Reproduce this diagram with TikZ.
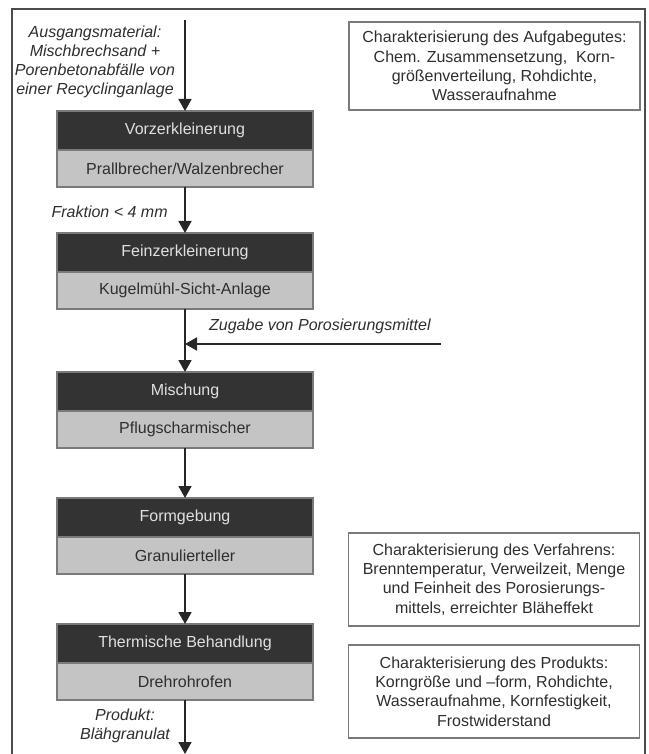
\documentclass[tikz,border=0pt]{standalone}
\usepackage{fontspec}
\setmainfont{Liberation Sans}
\usetikzlibrary{arrows.meta,positioning}
\definecolor{stufedunkel}{HTML}{333333}
\definecolor{stufehell}{HTML}{C4C4C4}
\definecolor{randgrau}{HTML}{7A7A7A}
\definecolor{schrift}{HTML}{2E2E2E}
\tikzset{
  stufe/.style={draw=randgrau, line width=0.6pt, fill=stufedunkel, text=white!88!black,
    minimum width=128pt, minimum height=19.5pt, inner sep=0pt, outer sep=0pt,
    font=\fontsize{8}{9.6}\selectfont},
  geraet/.style={stufe, fill=stufehell, text=schrift, minimum height=18.5pt},
  info/.style={draw=randgrau, line width=0.7pt, text=schrift, align=center,
    minimum width=145.5pt, minimum height=44pt, inner sep=0pt,
    font=\fontsize{8}{9.6}\selectfont},
  etikett/.style={text=schrift, align=center, inner sep=0pt,
    font=\fontsize{8}{9.4}\selectfont\itshape},
  pfeil/.style={line width=0.9pt, draw=black!85, -{Triangle[length=6pt,width=6.5pt]}},
}
\begin{document}
\begin{tikzpicture}[x=0.5pt, y=-0.5pt]
	\useasboundingbox (0,0) rectangle (648,754);
	\draw[line width=0.8pt, draw=black!70] (12,754) -- (12,9) -- (645,9) -- (645,754);
	\node[stufe, anchor=north] (vorz) at (185,111) {Vorzerkleinerung};
	\node[geraet, below=0pt of vorz] (prall) {Prallbrecher/Walzenbrecher};
	\node[stufe, anchor=north] (feinz) at (185,233) {Feinzerkleinerung};
	\node[geraet, below=0pt of feinz] (kugel) {Kugelmühl-Sicht-Anlage};
	\node[stufe, anchor=north] (misch) at (185,372) {Mischung};
	\node[geraet, below=0pt of misch] (pflug) {Pflugscharmischer};
	\node[stufe, anchor=north] (form) at (185,498) {Formgebung};
	\node[geraet, below=0pt of form] (granul) {Granulierteller};
	\node[stufe, anchor=north] (therm) at (185,624) {Thermische Behandlung};
	\node[geraet, below=0pt of therm] (dreh) {Drehrohrofen};
	\coordinate (eingang) at (185,20);
	\coordinate (ausgang) at (185,754);
	\coordinate (zugabe) at (441,344);
	\coordinate (einmuendung) at (kugel.south |- zugabe);
	\draw[pfeil] (eingang) -- (vorz);
	\draw[pfeil] (prall) -- (feinz);
	\draw[pfeil] (kugel) -- (misch);
	\draw[pfeil] (zugabe) -- (einmuendung);
	\draw[pfeil] (pflug) -- (form);
	\draw[pfeil] (granul) -- (therm);
	\draw[pfeil] (dreh) -- (ausgang);
	\node[etikett] (rohstoff) at (95,62) {Ausgangsmaterial:\\ Mischbrechsand +\\ Porenbetonabfälle von\\ einer Recyclinganlage};
	\node[etikett, anchor=east] (fraktion) at (168,212) {Fraktion < 4 mm};
	\node[etikett, anchor=east] (porosierung) at (431,326) {Zugabe von Porosierungsmittel};
	\node[etikett] (produkt) at (125,726) {Produkt:\\ Blähgranulat};
	\node[info] (aufgabegut) at (494.5,66) {Charakterisierung des Aufgabegutes:\\ Chem. Zusammensetzung,~ Korn-\\ größenverteilung, Rohdichte,\\ Wasseraufnahme};
	\node[info, minimum height=46.5pt] (verfahren) at (494,579.5) {Charakterisierung des Verfahrens:\\ Brenntemperatur, Verweilzeit, Menge\\ und Feinheit des Porosierungs-\\ mittels, erreichter Bläheffekt};
	\node[info, minimum height=46.5pt] (produktinfo) at (494,691.5) {Charakterisierung des Produkts:\\ Korngröße und –form, Rohdichte,\\ Wasseraufnahme, Kornfestigkeit,\\ Frostwiderstand};
\end{tikzpicture}
\end{document}
